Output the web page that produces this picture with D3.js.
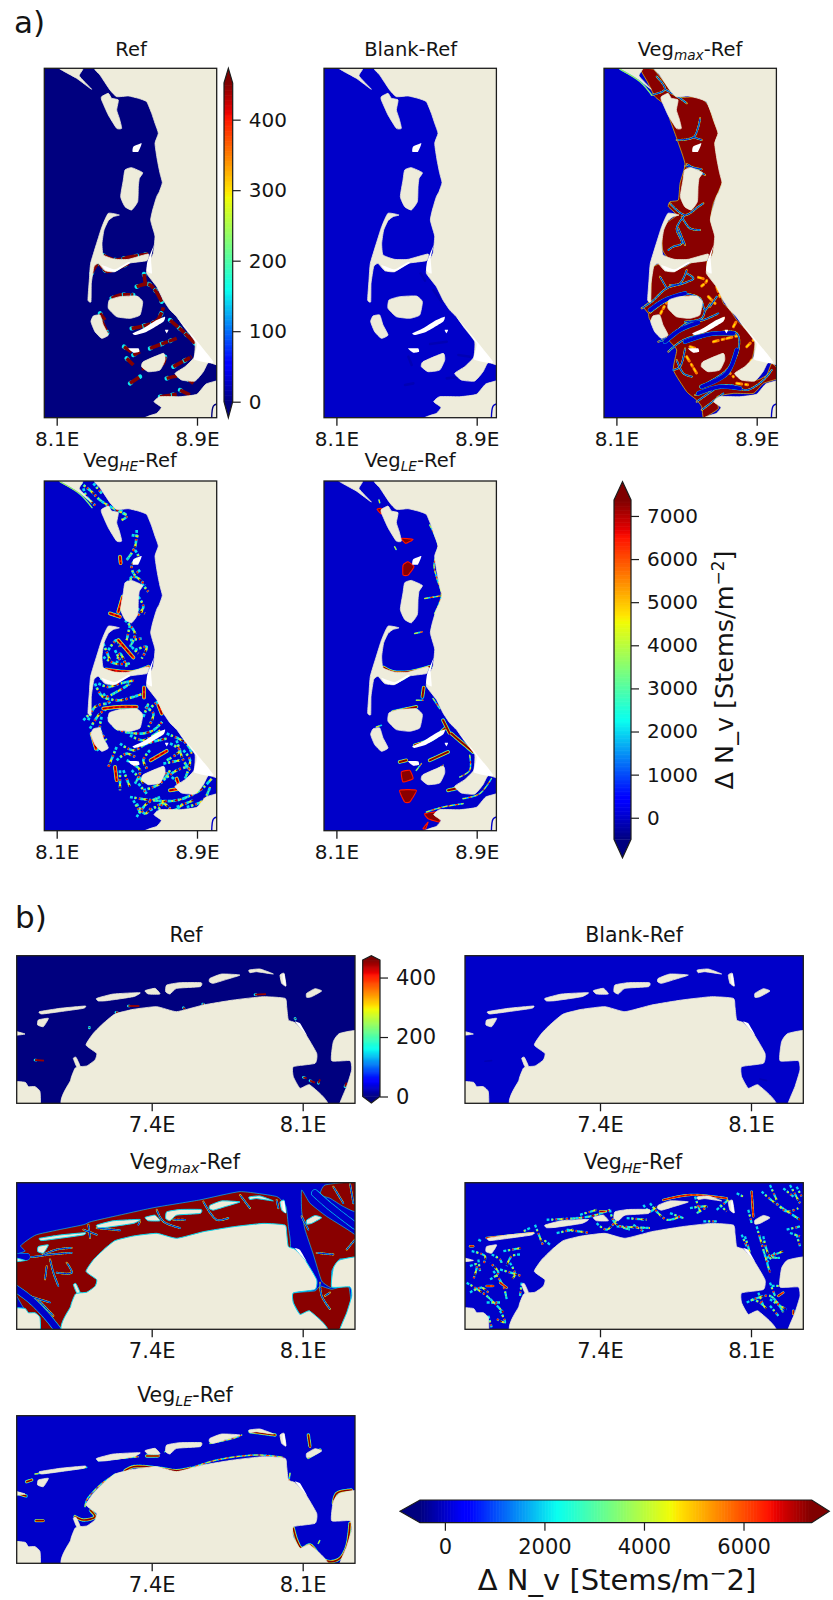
<!DOCTYPE html>
<html><head><meta charset="utf-8">
<script src="https://cdn.jsdelivr.net/npm/d3@7"></script>
<style>html,body{margin:0;background:#fff}svg{display:block}text{font-family:"DejaVu Sans";fill:#141414}</style>
</head><body><svg id="fig" width="833" height="1600"></svg>
<script>
// ---------- helpers for reading map cells (grid origin of the crop they were read from)
const at=(ox,oy,pts)=>pts.map(([x,y])=>[x-ox,y-oy]);
const each=(ox,oy,list)=>list.map(p=>at(ox,oy,p));

// ---------- tick labels / colourbar ticks
const lonTicksA=[8.1,8.9], lonTicksB=[7.4,8.1];
const barTicksRefA=[0,100,200,300,400], barTicksDiffA=[0,1000,2000,3000,4000,5000,6000,7000];
const barTicksRefB=[0,200,400], barTicksDiffB=[0,2000,4000,6000];

// ---------- North Frisian domain (a) : land and no-data shapes
const landA=each(133,205,[
 [[283,205],[300,225],[330,270],[350,290],[385,288],[415,295],[440,305],[455,340],[465,370],[475,400],[465,430],[472,480],[480,520],[487,548],[478,575],[470,590],[458,630],[452,660],[460,690],[465,710],[460,760],[445,790],[440,820],[470,860],[490,900],[510,930],[530,950],[555,985],[585,1025],[582,1072],[555,1100],[525,1120],[545,1140],[585,1143],[610,1115],[625,1088],[660,1100],[660,1138],[618,1152],[590,1183],[540,1190],[480,1190],[462,1205],[484,1222],[470,1240],[435,1260],[720,1320],[720,140],[283,140]],
 [[175,203],[248,205],[238,228],[275,268],[230,235]],
 [[305,290],[325,280],[335,295],[355,300],[350,330],[358,355],[365,385],[350,385],[325,345],[305,300]],
 [[375,510],[395,503],[428,518],[418,535],[415,560],[413,605],[395,630],[375,620],[362,590],[370,540]],
 [[325,640],[358,645],[340,650],[325,662],[312,690],[306,730],[310,765],[345,778],[385,778],[445,762],[440,782],[385,790],[345,815],[315,812],[295,790],[282,800],[274,850],[273,905],[264,900],[268,840],[272,790],[290,730],[306,680]],
 [[328,900],[360,890],[410,888],[428,905],[420,945],[390,955],[350,950],[325,925]],
 [[280,948],[300,945],[310,975],[325,1005],[305,1015],[285,995],[273,965]],
 [[430,1085],[490,1060],[495,1080],[480,1110],[445,1115],[425,1100]]
]);
const whiteA=each(133,205,[
 [[525,945],[640,1085],[582,1078],[590,1030]],
 [[462,735],[453,775],[456,820],[440,812],[442,785]],
 [[400,440],[425,430],[415,455],[398,455]],
 [[398,1000],[430,985],[470,960],[495,950],[490,965],[440,995],[405,1005]],
 [[495,990],[505,990],[500,1000]],
 [[385,1045],[415,1045],[418,1055],[400,1058]],
 [[305,795],[345,808],[385,786],[390,790],[345,815],[318,811]]
]);
const creekA=each(133,205,[[[650,1212],[640,1218],[635,1253]]]);

// ---------- Veg_max-Ref (a)
const flatsMaxA=each(102,85,[
 [[212,88],[250,88],[290,135],[330,172],[385,170],[415,195],[430,240],[445,280],[435,310],[445,370],[457,425],[430,490],[422,540],[437,590],[432,625],[420,655],[350,665],[300,660],[278,630],[275,570],[295,545],[320,525],[295,500],[300,485],[325,480],[330,430],[345,372],[320,295],[300,240],[285,195],[255,170],[232,125]],
 [[250,680],[275,670],[300,690],[345,680],[370,665],[410,660],[410,695],[440,735],[460,790],[480,810],[500,840],[555,900],[545,960],[520,1000],[560,1020],[590,1005],[605,970],[625,990],[625,1015],[580,1030],[550,1060],[490,1060],[440,1070],[445,1105],[425,1120],[400,1133],[395,1100],[380,1080],[350,1055],[310,990],[320,930],[300,905],[240,840],[235,820],[220,800],[240,780],[245,700]]
]);
const channelsMaxA=each(102,85,[
 [[245,165],[285,148],[260,110]],[[285,148],[330,175],[350,190]],
 [[320,300],[370,292],[385,260],[390,235]],[[370,292],[395,300]],
 [[350,372],[405,405]],[[345,378],[395,388]],
 [[300,490],[345,525],[385,500],[400,490]],[[345,525],[320,565],[335,610],[310,620],[295,630]],[[335,530],[360,565],[390,570]],[[325,565],[345,615]],
 [[215,805],[245,785],[290,745],[340,730],[370,715],[350,700]],[[290,745],[270,710]],[[300,735],[330,730],[350,690]],
 [[240,818],[285,785],[340,762],[390,775],[405,810],[420,790]],[[405,810],[395,835],[345,845]],
 [[265,905],[300,890],[350,850],[400,840],[445,820]],[[420,800],[440,770]],
 [[295,935],[340,900],[420,880],[500,880],[505,930],[470,990],[390,1040]],
 [[345,925],[330,980],[310,990]],[[320,960],[340,1000],[365,1010]],
 [[375,1065],[420,1050],[480,1035],[530,1050],[580,1020],[605,990]],
 [[380,1085],[430,1050]],[[395,1110],[460,1060]]
]);
const channelsWideMaxA=each(102,85,[
 [[240,810],[285,780],[345,760]],[[285,905],[330,870],[385,848]],
 [[345,905],[420,882],[490,880]],[[395,1040],[470,1000],[500,930]],
 [[385,1060],[450,1040],[510,1045]]
]);
const patchesMaxA=each(102,85,[
 [[385,712],[410,722],[395,738]],[[340,770],[300,778],[272,820]],[[360,920],[385,928]],
 [[400,870],[460,835]],[[430,905],[500,888]],[[470,990],[490,1010]],[[520,1000],[545,960]],
 [[530,920],[550,900]],[[490,860],[500,842]],[[350,950],[380,1000]],[[500,1030],[540,1035]],
 [[440,740],[450,770]],[[415,770],[435,790]]
]);
const sliverEdgeA=each(102,85,[[[150,88],[210,125],[245,165]]]);

// ---------- Veg_HE-Ref (a)
const streaksHeA=each(73,93,[
 [[180,97],[215,125],[240,150],[280,175],[320,195]],[[220,100],[245,130]],
 [[350,240],[345,290],[320,330]],[[335,255],[360,260]],[[330,385],[360,360]],[[365,400],[385,425]],
 [[330,525],[320,570]],[[350,475],[375,490]],[[250,580],[270,630]],[[285,600],[300,630]],[[330,570],[365,565]],[[335,590],[355,610]],
 [[240,685],[290,690],[330,670]],[[225,700],[250,740],[290,725],[330,700]],[[250,730],[270,760]],
 [[190,810],[205,795]],[[210,835],[240,790],[270,770]],[[265,800],[290,835],[360,850],[400,840],[430,810]],
 [[385,780],[415,755],[420,775]],[[370,800],[385,760]],[[230,900],[260,880]],[[290,890],[265,950]],
 [[320,930],[360,960],[345,1000]],[[440,850],[500,880],[515,910]],[[470,870],[490,930],[510,960]],
 [[455,980],[480,1000]],[[370,1020],[420,1000],[450,960]],[[330,1040],[400,1050],[470,1050],[540,1020],[575,985]],
 [[350,1100],[380,1060],[420,1040]],[[390,1080],[440,1050]],[[430,940],[480,930]],[[410,960],[440,970]],[[355,1000],[380,1030]],[[470,1070],[520,1050]],[[310,960],[330,1010]],
 [[260,135],[285,160],[300,150]],[[190,115],[200,140],[230,170]],[[300,180],[320,200],[305,210]],[[345,300],[355,320],[335,345],[340,370]],[[320,400],[345,380],[375,405]],[[355,440],[370,470],[350,500]],[[315,510],[345,550],[330,590]],[[265,600],[290,570],[300,590]],[[250,620],[285,640],[330,640]],[[345,600],[380,590],[365,625]],[[290,640],[300,610],[320,650]],[[235,700],[265,710],[300,700],[345,690]],[[260,745],[300,750],[370,730]],[[205,810],[225,770],[260,760]],[[375,770],[400,790],[385,830]],[[330,855],[370,870],[420,840]],[[245,800],[240,840],[260,870]],[[300,880],[340,900],[380,880],[440,865]],[[290,930],[320,910],[345,920]],[[300,960],[300,1020]],[[335,960],[365,990],[370,1000]],[[390,900],[370,930],[385,960]],[[430,990],[470,960],[500,950]],[[490,900],[510,930],[495,985]],[[450,880],[480,900],[440,930]],[[500,1000],[520,990],[505,1020]],[[350,1060],[375,1090],[395,1070]],[[410,1090],[430,1060],[460,1080],[490,1060]],[[500,1070],[550,1050],[570,1010]],[[340,1050],[360,1085]]
]);
const hotHeA=each(73,93,[
 [[300,320],[302,340]],[[308,440],[295,485]],[[270,490],[300,500]],[[295,570],[340,622]],
 [[258,658],[340,665],[385,650]],[[372,712],[372,742]],[[250,775],[300,770],[350,770]],
 [[215,850],[228,895]],[[285,950],[290,990]],[[392,930],[440,902]],[[450,1020],[480,1015]],[[415,765],[425,790]],[[470,985],[475,1000]]
]);

// ---------- Veg_LE-Ref (a)
const fringeLeA=each(73,93,[
 [[390,225],[415,285],[403,345],[410,380],[425,435],[405,490]],[[375,445],[425,437]],[[345,550],[368,545]],
 [[240,680],[290,695],[330,675]],[[350,750],[370,750]],[[400,745],[420,775]],
 [[510,915],[510,960],[480,980]],[[370,985],[430,945]],[[350,960],[365,940]],[[490,1045],[540,1030],[575,985]],
 [[380,1085],[430,1070],[490,1060]],[[230,830],[245,825]],[[285,290],[290,300]],[[238,150],[240,158]]
]);
const bandsLeA=each(73,93,[
 [[252,652],[280,665],[330,665],[390,650]],[[280,785],[350,770]],[[345,885],[400,865],[435,835]],
 [[430,810],[450,850]],[[455,850],[490,880],[520,905]],[[390,930],[445,905]],[[445,1020],[480,1012]],[[372,712],[368,740]],[[300,935],[320,930]]
]);
const blobsLeA=each(73,93,[
 [[232,178],[245,175],[245,192]],[[305,265],[340,268],[318,280]],
 [[310,345],[325,335],[343,350],[325,375],[310,375]],[[305,965],[330,960],[340,985],[310,995]],
 [[300,1020],[350,1020],[330,1055],[315,1055]],[[375,1090],[415,1085],[420,1115],[385,1105]],[[370,1135],[385,1115],[378,1135]]
]);

// ---------- Blank-Ref (a) : slightly darker flats
const darkBlankA=each(102,85,[
 [[392,700],[405,722]],[[420,912],[470,905]],[[470,1015],[510,1010]],[[355,950],[365,975]],[[370,1030],[345,1035]],[[505,945],[540,950]],[[430,750],[455,785]]
]);

// ---------- Ref (a)
const hotRefA=each(133,205,[
 [[310,766],[345,780],[385,772],[445,762]],[[275,820],[295,790],[320,814],[350,806],[385,790]],[[432,822],[436,850]],
 [[410,860],[445,852],[465,870],[485,905]],[[335,895],[360,885],[400,885]],[[300,940],[315,960]],[[305,962],[322,1000]],
 [[395,985],[470,962],[490,922]],[[510,960],[555,1000],[585,1030]],[[450,1045],[530,1015]],[[372,1040],[395,1056]],
 [[380,1075],[400,1095]],[[495,1070],[488,1092],[425,1106]],[[520,1100],[575,1070]],[[500,1135],[545,1128],[580,1150]],
 [[390,1150],[420,1130]],[[540,1170],[570,1185]],[[480,1190],[530,1183]],[[400,1065],[420,1055]]
]);

// ---------- East Frisian domain (b)
const landB=each(50,197,[
 [[207,660],[212,570],[225,535],[235,530],[260,528],[285,510],[290,490],[258,465],[280,430],[310,400],[345,372],[400,358],[470,350],[530,365],[610,345],[700,330],[790,320],[855,325],[860,350],[865,390],[885,398],[915,430],[950,490],[945,520],[880,530],[880,560],[900,595],[930,585],[968,660]],
 [[1100,428],[1020,430],[1000,455],[995,512],[1050,512],[1055,540],[1040,590],[1015,660],[1100,660]],
 [[30,578],[75,577],[85,590],[105,590],[120,605],[117,660],[30,660]],
 [[40,423],[75,432],[40,436]],
 [[118,365],[180,355],[255,348],[250,355],[180,365],[125,372]],
 [[115,390],[145,385],[130,410],[113,405]],
 [[290,325],[340,312],[420,308],[400,320],[320,332],[295,333]],
 [[435,302],[465,295],[480,312],[445,312]],
 [[500,285],[540,278],[603,278],[600,290],[530,295],[510,312],[497,305]],
 [[630,265],[665,252],[720,255],[680,268],[640,280],[628,275]],
 [[747,240],[780,237],[820,252],[770,245],[750,248]],
 [[840,255],[852,250],[858,288],[845,280]],
 [[920,310],[945,296],[965,303],[935,320],[920,322]],
 [[220,505],[228,502],[240,528],[230,530]]
]);
const whiteB=each(50,197,[[[885,395],[900,400],[920,435]],[[848,258],[853,252],[858,288],[850,280]]]);
const flatsMaxB=each(50,128,[
 [[62,318],[110,285],[250,255],[275,245],[430,210],[480,200],[600,180],[720,155],[830,170],[858,200],[865,260],[870,325],[800,400],[210,580],[120,580],[40,450],[40,352],[75,335]],
 [[905,150],[930,190],[980,230],[1070,290],[1070,360],[1020,358],[995,395],[995,445],[965,425],[940,345],[915,270],[905,215]],
 [[975,135],[1070,128],[1070,215],[1030,200],[990,175],[960,165]],
 [[878,462],[945,455],[960,440],[995,450],[1045,440],[1052,500],[1020,575],[970,575],[930,530],[900,525],[880,490]]
]);
const channelsWideMaxB=each(50,128,[
 [[35,440],[90,480],[135,525],[175,575]],[[40,352],[80,352]],[[945,160],[990,200],[1065,258]]
]);
const channelsMaxB=each(50,128,[
 [[52,352],[100,352],[150,345],[215,340]],[[130,345],[170,330],[215,325]],[[150,360],[160,400],[175,440]],[[140,380],[135,420]],[[200,370],[215,400],[170,400]],
 [[265,255],[270,295]],[[250,270],[290,285]],[[290,265],[360,272]],[[420,245],[415,255]],
 [[470,210],[490,245],[540,265]],[[520,240],[555,240]],[[610,185],[650,240],[685,235]],[[720,165],[750,205]],[[830,180],[835,205]],
 [[70,465],[150,490]],[[115,482],[160,530]],[[960,430],[965,470],[990,510]],[[990,460],[975,470]],
 [[950,340],[1000,345]],[[1065,300],[1040,330]],[[1000,140],[1030,190]],[[1050,130],[1060,190]],[[905,230],[925,270]]
]);
const streaksHeB=each(45,128,[
 [[255,255],[280,320]],[[240,265],[220,275]],[[85,300],[95,305]],[[160,335],[215,325]],[[125,345],[150,360],[155,370]],
 [[85,360],[90,395]],[[130,395],[160,440],[170,480]],[[150,390],[215,410]],[[50,430],[110,470],[160,520]],[[110,490],[150,490]],[[115,530],[125,565]],
 [[290,240],[420,230],[480,210]],[[480,210],[495,250],[540,270]],[[530,235],[590,240]],[[500,260],[600,265]],[[350,270],[420,280]],
 [[600,190],[650,240],[690,230]],[[735,170],[750,215]],[[800,210],[835,180]],[[760,245],[800,245]],
 [[875,285],[890,320]],[[935,155],[970,185],[1050,240]],[[960,135],[980,180]],[[1020,135],[1050,190]],[[920,260],[960,400]],[[950,355],[1000,335]],
 [[1010,270],[1050,260]],[[1040,285],[1050,320]],[[890,490],[960,470],[1000,520]],[[925,460],[940,500]],[[960,430],[975,470]],
 [[65,335],[105,350],[100,375]],[[60,380],[80,375],[70,420]],[[120,420],[145,400],[120,370]],[[180,370],[195,405],[185,420]],[[60,460],[95,445],[115,460]],[[150,515],[165,550],[140,540]],[[210,345],[185,350],[170,380]],[[215,430],[210,470]],[[320,280],[370,270]],[[300,315],[280,300]],[[440,250],[470,270],[500,240]],[[390,225],[440,210]],[[550,255],[580,275]],[[580,195],[600,215],[620,200]],[[660,220],[700,235]],[[720,205],[770,200],[740,220]],[[810,195],[830,215]],[[860,160],[880,170]],[[895,210],[905,250]],[[885,290],[900,340]],[[940,290],[960,350],[990,355]],[[950,370],[975,340]],[[980,190],[1010,215],[1045,205]],[[1000,145],[1030,170]],[[1040,140],[1055,170]],[[1020,280],[1050,290]],[[905,480],[930,490],[950,510]],[[960,480],[990,500],[1010,510]],[[965,440],[990,440]],[[960,500],[985,530]]
]);
const hotHeB=each(45,128,[
 [[110,295],[250,280]],[[60,320],[70,320]],[[110,440],[130,440]],[[450,215],[465,215]],[[640,180],[720,165],[830,175]],
 [[905,155],[910,230]],[[985,470],[1000,460]],[[1030,515],[1030,525]],[[150,430],[170,445]]
]);
const fringeLeB=each(50,137,[
 [[105,312],[260,292]],[[295,272],[415,260]],[[495,245],[530,225],[605,220]],[[630,220],[700,205],[725,195]],
 [[570,295],[650,270],[770,255],[850,262]],[[255,410],[260,390],[300,345],[350,310]],[[205,575],[225,490]],[[955,520],[960,510]],[[870,310],[865,345]]
]);
const bandsLeB=each(50,137,[
 [[80,335],[95,330]],[[52,370],[78,378]],[[108,452],[130,452]],[[52,518],[75,525]],[[440,258],[475,258]],
 [[750,185],[825,195]],[[925,195],[930,230]],[[925,262],[960,240]],[[375,302],[400,290],[480,295],[530,302],[570,295]],
 [[225,440],[250,450],[285,440],[270,420]],[[880,475],[890,510],[905,535],[930,525],[965,565],[990,575],[1020,565],[1040,530],[1050,460]],
 [[1000,400],[1010,370],[1055,360]]
]);
const darkBlankB=each(45,135,[[[105,452],[125,450]],[[380,290],[400,290]],[[930,505],[950,510]]]);
const hotRefB=each(50,197,[
 [[105,510],[132,512]],[[385,348],[420,348]],[[348,367],[355,367]],[[550,353],[555,358]],[[608,342],[612,343]],[[765,314],[800,312]],
 [[855,342],[856,345]],[[910,562],[920,565]],[[930,572],[945,578]],[[955,580],[960,568]],[[1035,590],[1040,578]],[[885,385],[886,387]],[[268,412],[268,414]]
]);

// ---------- values used for the marks (data units of each colourbar)
const vRef={sea:0,low:150,mid:250,high:400,top:450};
const vDiff={sea:0,low:2000,mid:3000,warm:4700,orange:5600,high:6500,top:7300};

// ---------- colour maps
const jetStops=[[0,"#00007f"],[.11,"#0000ff"],[.125,"#0000ff"],[.35,"#0affef"],[.375,"#19ffde"],[.64,"#f1fc06"],[.66,"#ffe600"],[.89,"#ff1300"],[.91,"#e80000"],[1,"#7f0000"]];
const jet=d3.scaleLinear().domain(jetStops.map(d=>d[0])).range(jetStops.map(d=>d[1])).clamp(true);
const diffDomain=[-500,7370];
const refDomainA=[0,452], refDomainB=[0,459];

const svg=d3.select("#fig");
const defs=svg.append("defs");
defs.append("filter").attr("id","soft").append("feGaussianBlur").attr("stdDeviation",0.4);

const BEIGE="#eeecdb";
let clipN=0;

function mapPanel(o){
  const {x0,x1,y0,y1,gw,gh,land,white,norm}=o;
  const gx=d3.scaleLinear().domain([0,gw]).range([x0,x1]);
  const gy=d3.scaleLinear().domain([0,gh]).range([y0,y1]);
  const color=v=>jet(norm(v));
  const poly=d3.line().x(d=>gx(d[0])).y(d=>gy(d[1])).curve(d3.curveCardinalClosed.tension(.55));
  const ln=d3.line().x(d=>gx(d[0])).y(d=>gy(d[1])).curve(d3.curveCatmullRom.alpha(.5));
  const id="c"+(clipN++);
  defs.append("clipPath").attr("id",id).append("rect").attr("x",x0).attr("y",y0).attr("width",x1-x0).attr("height",y1-y0);
  const g=svg.append("g").attr("clip-path",`url(#${id})`).append("g").attr("filter","url(#soft)");
  g.append("rect").attr("x",x0-6).attr("y",y0-6).attr("width",x1-x0+12).attr("height",y1-y0+12).attr("fill",color(o.sea));
  const fills=(list,fill,stroke,sw)=>g.append("g").selectAll("path").data(list||[]).join("path").attr("d",poly).attr("fill",fill).attr("stroke",stroke||"none").attr("stroke-width",sw||0).attr("stroke-linejoin","round");
  const lines=(list,col,w,dash,off,cap)=>g.append("g").selectAll("path").data(list||[]).join("path").attr("d",ln).attr("fill","none").attr("stroke",col).attr("stroke-width",w).attr("stroke-linecap",cap||"round").attr("stroke-linejoin","round").attr("stroke-dasharray",dash||null).attr("stroke-dashoffset",off||0);
  (o.layers||[]).forEach(l=>{
    if(l.kind==="flats") fills(l.data,color(l.v),color(o.edge),.6);
    if(l.kind==="blob"){fills(l.data,color(l.v),color(l.rim),1.1);}
    if(l.kind==="line") lines(l.data,color(l.v),l.w,l.dash,l.off,l.cap);
  });
  fills(land,BEIGE,o.coast?color(o.coast):BEIGE,o.coast?1:.8);
  fills(white,"#ffffff");
  (o.after||[]).forEach(l=>lines(l.data,color(l.v),l.w,l.dash,l.off));
  return {gx,gy};
}

function frame(o){
  svg.append("rect").attr("x",o.x0).attr("y",o.y0).attr("width",o.x1-o.x0).attr("height",o.y1-o.y0).attr("fill","none").attr("stroke","#1c1c1c").attr("stroke-width",1.3);
  const ax=svg.append("g").attr("transform",`translate(0,${o.y1})`).call(d3.axisBottom(o.lon).tickValues(o.ticks).tickSize(8).tickPadding(o.pad).tickFormat(d=>d.toFixed(1)+"E"));
  ax.select(".domain").remove();
  ax.selectAll("line").attr("stroke","#1c1c1c").attr("stroke-width",1.3);
  ax.selectAll("text").style("font-family",'"DejaVu Sans"').style("font-size",o.fs+"px").attr("fill","#141414");
}

function title(cx,by,main,sub,fs,tail){
  const t=svg.append("text").attr("x",cx).attr("y",by).attr("text-anchor","middle").style("font-size",fs+"px");
  t.append("tspan").text(main);
  if(sub){
    t.append("tspan").attr("dy",fs*.18).style("font-size",(fs*.7)+"px").style("font-style","italic").text(sub);
    t.append("tspan").attr("dy",-fs*.18).text(tail);
  } else if(tail) t.append("tspan").text(tail);
}

function vbar(o){
  const {x0,x1,top,y0,y1,bot,domain,ticks,fs}=o;
  const y=d3.scaleLinear().domain(domain).range([y1,y0]);
  const g=svg.append("g");
  g.append("polygon").attr("points",`${x0},${y0} ${(x0+x1)/2},${top} ${x1},${y0}`).attr("fill",jet(1));
  g.append("polygon").attr("points",`${x0},${y1} ${(x0+x1)/2},${bot} ${x1},${y1}`).attr("fill",jet(0));
  const n=d3.range(0,256);
  g.selectAll("rect").data(n).join("rect").attr("x",x0).attr("width",x1-x0)
    .attr("y",d=>y0+(y1-y0)*(255-d)/256-.3).attr("height",(y1-y0)/256+.6).attr("fill",d=>jet((d+.5)/256));
  g.append("polygon").attr("points",`${x0},${y0} ${(x0+x1)/2},${top} ${x1},${y0} ${x1},${y1} ${(x0+x1)/2},${bot} ${x0},${y1}`).attr("fill","none").attr("stroke","#1c1c1c").attr("stroke-width",1.2);
  const ax=svg.append("g").attr("transform",`translate(${x1},0)`).call(d3.axisRight(y).tickValues(ticks).tickSize(o.tick).tickPadding(o.pad).tickFormat(d3.format("d")));
  ax.select(".domain").remove();
  ax.selectAll("line").attr("stroke","#1c1c1c").attr("stroke-width",1.2);
  ax.selectAll("text").style("font-family",'"DejaVu Sans"').style("font-size",fs+"px").attr("fill","#141414");
}

function hbar(o){
  const {y0,y1,left,x0,x1,right,domain,ticks,fs}=o;
  const x=d3.scaleLinear().domain(domain).range([x0,x1]);
  const g=svg.append("g");
  g.append("polygon").attr("points",`${x0},${y0} ${left},${(y0+y1)/2} ${x0},${y1}`).attr("fill",jet(0));
  g.append("polygon").attr("points",`${x1},${y0} ${right},${(y0+y1)/2} ${x1},${y1}`).attr("fill",jet(1));
  g.selectAll("rect").data(d3.range(0,256)).join("rect").attr("y",y0).attr("height",y1-y0)
    .attr("x",d=>x0+(x1-x0)*d/256-.3).attr("width",(x1-x0)/256+.6).attr("fill",d=>jet((d+.5)/256));
  g.append("polygon").attr("points",`${x0},${y0} ${x1},${y0} ${right},${(y0+y1)/2} ${x1},${y1} ${x0},${y1} ${left},${(y0+y1)/2}`).attr("fill","none").attr("stroke","#1c1c1c").attr("stroke-width",1.2);
  const ax=svg.append("g").attr("transform",`translate(0,${y1})`).call(d3.axisBottom(x).tickValues(ticks).tickSize(8).tickPadding(o.pad).tickFormat(d3.format("d")));
  ax.select(".domain").remove();
  ax.selectAll("line").attr("stroke","#1c1c1c").attr("stroke-width",1.2);
  ax.selectAll("text").style("font-family",'"DejaVu Sans"').style("font-size",fs+"px").attr("fill","#141414");
}

// ---------- layer recipes
const speckle=(data,V,k=1)=>[
 {kind:"line",data,v:V.low,w:2.7*k,dash:"3 1.5 2 2.5 4 1.5",cap:"butt"},
 {kind:"line",data,v:V.mid,w:2.1*k,dash:"2 5 1.5 6",off:2,cap:"butt"},
 {kind:"line",data,v:V.warm,w:2*k,dash:"2 8 1 7",off:4,cap:"butt"},
 {kind:"line",data,v:V.high,w:2*k,dash:"2 14 1.5 9",off:7,cap:"butt"},
 {kind:"line",data,v:V.top,w:1.6*k,dash:"2 27",off:13,cap:"butt"}];
const hot=(data,V,k=1)=>[
 {kind:"line",data,v:V.low,w:4*k,dash:"3 1 2 1"},
 {kind:"line",data,v:V.warm,w:3.2*k},
 {kind:"line",data,v:V.high,w:2.4*k},
 {kind:"line",data,v:V.top,w:1.2*k,dash:"3 3"}];
const band=(data,V,w)=>[
 {kind:"line",data,v:V.low,w:w+1.8,dash:"3 1.5 2 1"},
 {kind:"line",data,v:V.warm,w:w+.9,dash:"4 1 3 2"},
 {kind:"line",data,v:V.top,w:w}];
const fringe=(data,V)=>[
 {kind:"line",data,v:V.low,w:1.6,dash:"3 1 2 2"},
 {kind:"line",data,v:V.warm,w:1,dash:"3 3"},
 {kind:"line",data,v:V.high,w:.9,dash:"2 6",off:2}];
const refSpots=(data,V,w)=>[
 {kind:"line",data,v:V.low,w:w+.9,dash:"1 11 1.5 8"},
 {kind:"line",data,v:V.top,w:w,dash:"11 1 7 1 16 1.5",cap:"butt"}];
const channels=(thin,wide,V,sea,k)=>[
 {kind:"line",data:wide,v:V.low,w:4.5*k,dash:"3 1 2 1"},
 {kind:"line",data:thin,v:V.warm,w:1.9,dash:"2 2"},
 {kind:"line",data:thin,v:V.low,w:1.7,dash:"2 2",off:2},
 {kind:"line",data:wide,v:sea,w:3.8*k},
 {kind:"line",data:thin,v:sea,w:.9}];

// ---------- panel (a)
const normRefA=d3.scaleLinear().domain(refDomainA).range([0,1]);
const normRefB=d3.scaleLinear().domain(refDomainB).range([0,1]);
const normDiff=d3.scaleLinear().domain(diffDomain).range([0,1]);
const GWA=517,GHA=1048,GWB=1015,GHB=443;
const lonPxA=(x0)=>d3.scaleLinear().domain(lonTicksA).range([x0+12.4,x0+152.7]);
const lonPxB=(x0)=>d3.scaleLinear().domain(lonTicksB).range([x0+135,x0+286]);

const colsA=[44.3,324,604], rowsA=[[68.3,417.7],[481,830.7]], WA=172.4;
function panelA(cx,row,spec){
  const x0=colsA[cx],x1=x0+WA,[y0,y1]=rowsA[row];
  mapPanel(Object.assign({x0,x1,y0,y1,gw:GWA,gh:GHA,land:landA,white:whiteA},spec));
  frame({x0,x1,y0,y1,lon:lonPxA(x0),ticks:lonTicksA,pad:6,fs:20});
}
const creekLayer=v=>({data:creekA,v,w:1.4});
const sliverLayers=[{data:sliverEdgeA,v:vDiff.low,w:1.4},{data:sliverEdgeA,v:vDiff.warm,w:.8}];
panelA(0,0,{norm:normRefA,sea:vRef.sea,edge:vRef.sea,layers:refSpots(hotRefA,vRef,3.6),after:[creekLayer(vRef.sea)]});
panelA(1,0,{norm:normDiff,sea:vDiff.sea,edge:vDiff.sea,layers:[{kind:"line",data:darkBlankA,v:-140,w:2.6}],after:[creekLayer(vDiff.sea)]});
panelA(2,0,{norm:normDiff,sea:vDiff.sea,edge:vDiff.warm,
  layers:[{kind:"flats",data:flatsMaxA,v:vDiff.top},
    {kind:"line",data:patchesMaxA,v:vDiff.orange,w:3,dash:"5 4 2 3"},{kind:"line",data:patchesMaxA,v:vDiff.warm,w:1.3,dash:"3 6 1 4"},
    ...channels(channelsMaxA,channelsWideMaxA,vDiff,vDiff.sea,1)],
  after:[...sliverLayers,creekLayer(vDiff.sea)]});
panelA(0,1,{norm:normDiff,sea:vDiff.sea,edge:vDiff.sea,layers:[...speckle(streaksHeA,vDiff),...hot(hotHeA,vDiff)],
  after:[...sliverLayers,creekLayer(vDiff.sea)]});
panelA(1,1,{norm:normDiff,sea:vDiff.sea,edge:vDiff.sea,
  layers:[{kind:"blob",data:blobsLeA,v:vDiff.top,rim:vDiff.high},...fringe(fringeLeA,vDiff),...band(bandsLeA,vDiff,2)],after:[creekLayer(vDiff.sea)]});

title(131,56,"Ref",null,19.5);
title(410.7,56,"Blank-Ref",null,19.5);
title(690,56,"Veg","max",19.5,"-Ref");
title(130,467,"Veg","HE",19.5,"-Ref");
title(410,467,"Veg","LE",19.5,"-Ref");

vbar({x0:224,x1:232.7,top:68.3,y0:83,y1:401.7,bot:417.7,domain:refDomainA,ticks:barTicksRefA,fs:20,tick:8,pad:8});
vbar({x0:614,x1:631,top:481.7,y0:500,y1:839.3,bot:857.7,domain:diffDomain,ticks:barTicksDiffA,fs:20,tick:8,pad:8});

// ---------- panel (b)
const colsB=[16.7,465], rowsB=[[955.7,1103.3],[1182.7,1329.3],[1415.7,1563.3]], WB=338.3;
function panelB(cx,row,spec){
  const x0=colsB[cx],x1=x0+WB,[y0,y1]=rowsB[row];
  mapPanel(Object.assign({x0,x1,y0,y1,gw:GWB,gh:GHB,land:landB,white:whiteB},spec));
  frame({x0,x1,y0,y1,lon:lonPxB(x0),ticks:lonTicksB,pad:6,fs:21});
}
panelB(0,0,{norm:normRefB,sea:vRef.sea,edge:vRef.sea,layers:refSpots(hotRefB,vRef,1.8)});
panelB(1,0,{norm:normDiff,sea:vDiff.sea,edge:vDiff.sea,layers:[{kind:"line",data:darkBlankB,v:-140,w:1.6}]});
panelB(0,1,{norm:normDiff,sea:vDiff.sea,edge:vDiff.low,coast:vDiff.low,
  layers:[{kind:"flats",data:flatsMaxB,v:vDiff.top},...channels(channelsMaxB,channelsWideMaxB,vDiff,vDiff.sea,1.7)]});
panelB(1,1,{norm:normDiff,sea:vDiff.sea,edge:vDiff.sea,layers:[...speckle(streaksHeB,vDiff,.85),...hot(hotHeB,vDiff,.6)]});
panelB(0,2,{norm:normDiff,sea:vDiff.sea,edge:vDiff.sea,layers:[...fringe(fringeLeB,vDiff),...band(bandsLeB,vDiff,1.6)]});

title(186,942,"Ref",null,20.5);
title(634,942,"Blank-Ref",null,20.5);
title(185,1169,"Veg","max",20.5,"-Ref");
title(633,1169,"Veg","HE",20.5,"-Ref");
title(185,1402,"Veg","LE",20.5,"-Ref");

vbar({x0:362.7,x1:380,top:955.7,y0:960,y1:1096.5,bot:1103,domain:refDomainB,ticks:barTicksRefB,fs:21,tick:8,pad:8});
hbar({y0:1500,y1:1522.7,left:400,x0:420,x1:811.7,right:829.3,domain:diffDomain,ticks:barTicksDiffB,fs:21,pad:8});

// ---------- free text
svg.append("text").attr("x",14).attr("y",33).style("font-size","31px").text("a)");
svg.append("text").attr("x",15).attr("y",928).style("font-size","31px").text("b)");

const lab1=svg.append("text").attr("transform","translate(733,670) rotate(-90)").attr("text-anchor","middle").style("font-size","25.5px");
lab1.append("tspan").text("Δ N_v [Stems/m");
lab1.append("tspan").attr("dy",-9).style("font-size","17px").text("−2");
lab1.append("tspan").attr("dy",9).text("]");

const lab2=svg.append("text").attr("x",617).attr("y",1590).attr("text-anchor","middle").style("font-size","29px");
lab2.append("tspan").text("Δ N_v [Stems/m");
lab2.append("tspan").attr("dy",-10).style("font-size","20px").text("−");
lab2.append("tspan").attr("dy",10).text("2]");
</script></body></html>
